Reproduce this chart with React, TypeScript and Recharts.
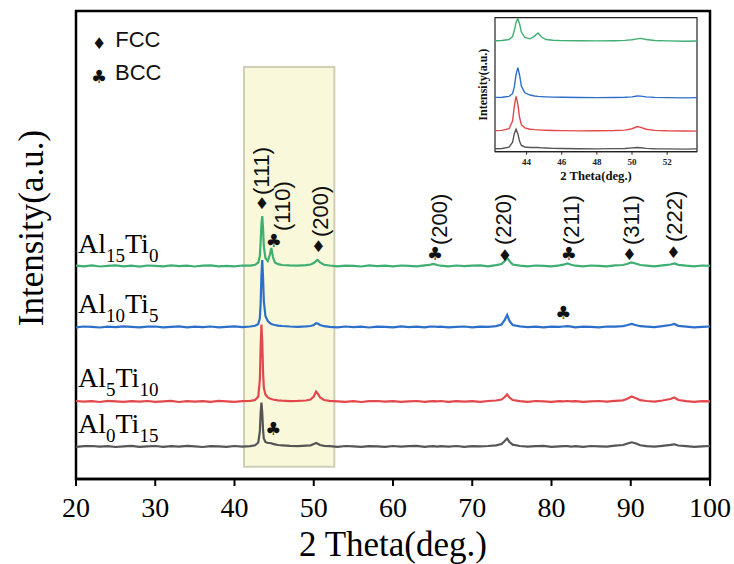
import React from 'react';
import { LineChart, Line, XAxis, YAxis, ReferenceArea, ReferenceDot } from 'recharts';

// 2θ sample positions (deg.)
const twoTheta = [
  20, 21, 22, 23, 24, 25, 26, 27, 28, 29, 30, 31, 32, 33, 34, 35, 36, 37, 38, 39, 40, 41, 42,
  42.6, 43.0, 43.2, 43.3, 43.4, 43.5, 43.6, 43.7, 43.9, 44.2, 44.45, 44.65, 44.85, 45.1, 45.5,
  46, 47, 48, 49,
  49.6, 50.0, 50.3, 50.5, 50.8, 51.3,
  52, 53, 54, 55, 56, 57, 58, 59, 60, 61, 62, 63, 64,
  64.6, 65.1, 65.6,
  66, 67, 68, 69, 70, 71, 72, 73,
  73.7, 74.1, 74.4, 74.7, 75.1,
  76, 77, 78, 79, 80, 81,
  81.5, 82.0, 82.5,
  83, 84, 85, 86, 87, 88, 89,
  89.5, 90.1, 90.6, 91.2,
  92, 93, 94,
  95.0, 95.5, 96.0,
  97, 98, 99, 100,
];

// Intensities (a.u.) above each pattern's own baseline
const al15ti0 = [
  0.4, -0.3, 0.6, -0.5, 0.2, 0.7, -0.4, 0.3, -0.6, 0.5, 0.1, -0.4, 0.6, -0.2, 0.4, -0.5, 0.3, 0.6, -0.3, 0.2, -0.4, 0.5, 0.3,
  1.2, 3.5, 10, 24, 42, 50, 38, 20, 8, 5, 11, 18, 9, 3.5, 1.8,
  1.0, 0.6, 0.4, 0.9,
  1.5, 3, 5, 6, 3.5, 1.2,
  0.5, -0.3, 0.4, 0.1, -0.5, 0.6, -0.2, 0.3, -0.4, 0.5, 0.2, -0.3, 0.6,
  1.2, 2, 1.0,
  0.3, -0.4, 0.5, -0.2, 0.4, 0.6, -0.3, 0.8,
  2, 5, 8, 5, 1.5,
  0.4, -0.3, 0.5, 0.1, -0.4, 0.6,
  1.3, 2.5, 1.2,
  0.3, -0.4, 0.5, 0.2, -0.3, 0.6, 1.0,
  2, 3.5, 2.5, 1,
  0.4, -0.3, 0.6,
  1.5, 2.5, 1.2,
  0.3, -0.4, 0.5, 0.1,
];
const al10ti5 = [
  -0.3, 0.5, 0.2, -0.5, 0.4, -0.2, 0.6, 0.1, -0.4, 0.3, 0.5, -0.3, 0.2, 0.6, -0.4, 0.4, -0.1, 0.5, -0.3, 0.2, 0.6, -0.2, 0.5,
  1.2, 3, 9, 24, 52, 67, 50, 26, 11, 6, 4, 3, 2.5, 2, 1.4,
  1, 0.5, 0.2, 0.6,
  1, 2, 3.8, 3.5, 2, 0.8,
  0.2, -0.4, 0.5, -0.1, 0.3, -0.5, 0.4, 0.1, -0.3, 0.6, -0.2, 0.3, -0.4,
  0.3, 0.5, 0.1,
  0.4, -0.3, 0.2, 0.5, -0.4, 0.3, 0.1, 0.9,
  2.5, 7, 12, 6, 2,
  0.6, -0.2, 0.4, -0.4, 0.3, 0.1,
  0.5, 0.8, 0.4,
  -0.3, 0.4, 0.2, -0.4, 0.5, 0.3, 0.9,
  1.8, 3, 2, 0.8,
  0.3, -0.2, 0.8,
  2, 3, 1.2,
  0.4, -0.3, 0.2, 0.5,
];
const al5ti10 = [
  0.5, -0.2, 0.3, -0.5, 0.6, 0.1, -0.4, 0.4, -0.2, 0.5, -0.3, 0.2, 0.6, -0.5, 0.3, -0.1, 0.4, -0.3, 0.6, 0.2, -0.4, 0.3, 0.6,
  1.5, 5, 22, 55, 77, 60, 30, 14, 7, 4, 3, 2.5, 2, 1.6, 1.2,
  0.8, 0.4, 0.6, 1,
  2, 5, 10, 8, 4, 1.5,
  0.6, 0.2, -0.3, 0.4, -0.5, 0.3, 0.5, -0.2, 0.4, -0.4, 0.2, 0.5, -0.3,
  0.2, 0.4, 0.1,
  0.5, -0.3, 0.3, -0.1, 0.4, -0.4, 0.5, 1.0,
  2, 4.5, 7, 4, 1.5,
  0.3, -0.3, 0.5, 0.2, -0.4, 0.4,
  0.2, 0.5, 0.1,
  0.4, -0.3, 0.2, 0.5, -0.2, 0.6, 1.2,
  2.5, 5, 3.5, 1.3,
  0.5, -0.2, 1.0,
  2.5, 4, 1.5,
  0.3, -0.4, 0.4, 0.1,
];
const al0ti15 = [
  -0.4, 0.3, 0.5, -0.2, 0.4, -0.5, 0.2, 0.6, -0.3, 0.1, 0.5, -0.4, 0.3, -0.2, 0.6, 0.2, -0.5, 0.4, 0.1, -0.3, 0.5, -0.1, 0.4,
  1.2, 4, 15, 34, 44, 34, 17, 8, 4.5, 3.5, 3.5, 3.2, 2.6, 2.2, 1.5,
  1.2, 0.6, 0.3, 0.8,
  1.2, 2.5, 3.5, 2.8, 1.5, 0.6,
  0.3, -0.3, 0.5, 0.1, -0.4, 0.4, 0.2, -0.3, 0.5, -0.2, 0.3, 0.6, -0.4,
  0.2, 0.3, -0.1,
  0.4, -0.2, 0.5, -0.4, 0.3, 0.1, 0.5, 1.2,
  2.5, 5.5, 8, 4.5, 1.8,
  0.5, -0.2, 0.3, 0.6, -0.4, 0.2,
  0.4, 0.3, -0.1,
  0.3, -0.3, 0.5, 0.2, -0.2, 0.8, 1.5,
  2.8, 4.2, 3.2, 1.2,
  0.4, -0.2, 0.7,
  1.6, 2.2, 1.0,
  0.3, -0.4, 0.2, 0.5,
];

// stacking offsets (a.u.)
const mainOffsets = [213, 152, 77.5, 32.5];
const insetOffsets = [246, 120, 46, 6];

const seriesKeys = ['g', 'b', 'r', 'k'];
const seriesValues = [al15ti0, al10ti5, al5ti10, al0ti15];
const seriesColors = ['#3fae72', '#2c6fca', '#e2474b', '#555555'];
const seriesNames = [
  ['Al', '15', 'Ti', '0'],
  ['Al', '10', 'Ti', '5'],
  ['Al', '5', 'Ti', '10'],
  ['Al', '0', 'Ti', '15'],
];
const seriesLabelY = [226, 166, 92, 46];

const xTicks = [20, 30, 40, 50, 60, 70, 80, 90, 100];
const insetTicks = [44, 46, 48, 50, 52];

const peakLabels = [
  { x: 43.47, y: 284, text: '(111)' },
  { x: 46.1, y: 248, text: '(110)' },
  { x: 50.79, y: 242, text: '(200)' },
  { x: 65.9, y: 234, text: '(200)' },
  { x: 74.0, y: 234, text: '(220)' },
  { x: 82.55, y: 234, text: '(211)' },
  { x: 90.12, y: 234, text: '(311)' },
  { x: 95.58, y: 237, text: '(222)' },
];
const FCC = '\u2666';
const BCC = '\u2663';
const phaseMarks = [
  { x: 43.45, y: 276, sym: FCC },
  { x: 44.95, y: 239, sym: BCC },
  { x: 50.6, y: 233, sym: FCC },
  { x: 65.3, y: 226, sym: BCC },
  { x: 74.13, y: 224, sym: FCC },
  { x: 82.2, y: 226, sym: BCC },
  { x: 89.82, y: 225, sym: FCC },
  { x: 95.37, y: 227, sym: FCC },
  { x: 81.49, y: 167, sym: BCC },
  { x: 44.9, y: 51, sym: BCC },
];
const legendItems = [
  { x: 22.93, y: 436, sym: FCC, text: 'FCC' },
  { x: 22.9, y: 403, sym: BCC, text: 'BCC' },
];

const buildRows = (offsets: number[]) =>
  twoTheta.map((t, i) => {
    const row: any = { t };
    seriesKeys.forEach((k, s) => {
      row[k] = seriesValues[s][i] + offsets[s];
    });
    return row;
  });

const mainRows = buildRows(mainOffsets);
const insetRows = buildRows(insetOffsets).filter((r) => r.t >= 42 && r.t <= 54);

const SERIF = "'Liberation Serif','Times New Roman',Times,serif";
const SANS = "'Liberation Sans',Arial,Helvetica,sans-serif";
const SYM = "'DejaVu Sans',sans-serif";

export default function App() {
  return (
    <div style={{ position: 'absolute', left: 0, top: 0, width: 734, height: 564, background: '#fff' }}>
      <LineChart width={734} height={564} data={mainRows} margin={{ top: 11, right: 24, bottom: 0, left: 76 }}>
        <XAxis
          dataKey="t"
          type="number"
          domain={[20, 100]}
          allowDataOverflow
          ticks={xTicks}
          height={85}
          tickSize={7}
          tickMargin={11}
          axisLine={{ stroke: '#000', strokeWidth: 2.5 }}
          tickLine={{ stroke: '#000', strokeWidth: 2 }}
          tick={{ fontSize: 28, fill: '#000', fontFamily: SERIF }}
          label={{ value: '2 Theta(deg.)', position: 'insideBottom', offset: 8, fontSize: 35, fill: '#000', fontFamily: SERIF }}
        />
        <YAxis type="number" domain={[0, 468]} allowDataOverflow hide />
        {seriesKeys.map((k, s) => (
          <Line key={k} dataKey={k} type="linear" stroke={seriesColors[s]} strokeWidth={2.2} dot={false} isAnimationActive={false} />
        ))}
        <ReferenceArea x1={41.2} x2={52.6} y1={12.3} y2={412} fill="#efec98" fillOpacity={0.35} stroke="#cfcfb6" strokeWidth={2} />
        <ReferenceArea x1={20} x2={100} y1={0} y2={468} fill="none" stroke="#000" strokeWidth={2.5} />
        {seriesNames.map((n, s) => (
          <ReferenceDot
            key={'lab' + s}
            x={20}
            y={seriesLabelY[s]}
            r={0}
            shape={(p: any) => (
              <text x={p.cx + 2} y={p.cy} fontFamily={SERIF} fontSize={28} fill="#000">
                <tspan>{n[0]}</tspan>
                <tspan fontSize={19} dy={9}>{n[1]}</tspan>
                <tspan dy={-9}>{n[2]}</tspan>
                <tspan fontSize={19} dy={9}>{n[3]}</tspan>
              </text>
            )}
          />
        ))}
        {peakLabels.map((l, i) => (
          <ReferenceDot
            key={'pl' + i}
            x={l.x}
            y={l.y}
            r={0}
            shape={(p: any) => (
              <text
                x={p.cx}
                y={p.cy}
                transform={`rotate(-90 ${p.cx} ${p.cy})`}
                textAnchor="start"
                dominantBaseline="central"
                fontFamily={SANS}
                fontSize={22}
                fill="#111"
              >
                {l.text}
              </text>
            )}
          />
        ))}
        {phaseMarks.map((m, i) => (
          <ReferenceDot
            key={'pm' + i}
            x={m.x}
            y={m.y}
            r={0}
            shape={(p: any) => (
              <text x={p.cx} y={p.cy} textAnchor="middle" dominantBaseline="central" fontFamily={SYM} fontSize={m.sym === FCC ? 16 : 18} fill="#111">
                {m.sym}
              </text>
            )}
          />
        ))}
        {legendItems.map((m, i) => (
          <ReferenceDot
            key={'lg' + i}
            x={m.x}
            y={m.y}
            r={0}
            shape={(p: any) => (
              <g>
                <text x={p.cx} y={p.cy} textAnchor="middle" dominantBaseline="central" fontFamily={SYM} fontSize={m.sym === FCC ? 16 : 18} fill="#111">
                  {m.sym}
                </text>
                <text x={p.cx + 16} y={p.cy + 4} fontFamily={SANS} fontSize={22} fill="#111">
                  {m.text}
                </text>
              </g>
            )}
          />
        ))}
      </LineChart>

      <div
        style={{
          position: 'absolute',
          left: 32 - 150,
          top: 228 - 20,
          width: 300,
          height: 40,
          lineHeight: '40px',
          textAlign: 'center',
          fontFamily: SERIF,
          fontSize: 35,
          color: '#000',
          transform: 'rotate(-90deg)',
          whiteSpace: 'nowrap',
        }}
      >
        Intensity(a.u.)
      </div>

      <div style={{ position: 'absolute', left: 470, top: 10 }}>
        <LineChart width={238} height={182} data={insetRows} margin={{ top: 7.7, right: 11, bottom: 0, left: 0 }}>
          <XAxis
            dataKey="t"
            type="number"
            domain={[42.2, 53.7]}
            allowDataOverflow
            ticks={insetTicks}
            height={40.3}
            tickSize={3}
            tickMargin={3.7}
            axisLine={{ stroke: '#222', strokeWidth: 1.2 }}
            tickLine={{ stroke: '#222', strokeWidth: 1 }}
            tick={{ fontSize: 9, fill: '#222', fontFamily: SERIF, fontWeight: 'bold' }}
            label={{ value: '2 Theta(deg.)', position: 'insideBottom', offset: 12, fontSize: 12.7, fill: '#111', fontFamily: SERIF, fontWeight: 'bold' }}
          />
          <YAxis
            type="number"
            domain={[0, 298]}
            allowDataOverflow
            width={25}
            tick={false}
            axisLine={false}
            tickLine={false}
            label={{ value: 'Intensity(a.u.)', angle: -90, position: 'center', fontSize: 12, fill: '#111', fontFamily: SERIF, fontWeight: 'bold' }}
          />
          {seriesKeys.map((k, s) => (
            <Line key={k} dataKey={k} type="linear" stroke={seriesColors[s]} strokeWidth={1.4} dot={false} isAnimationActive={false} />
          ))}
          <ReferenceArea x1={42.2} x2={53.7} y1={0} y2={298} fill="none" stroke="#222" strokeWidth={1.2} />
        </LineChart>
      </div>
    </div>
  );
}
